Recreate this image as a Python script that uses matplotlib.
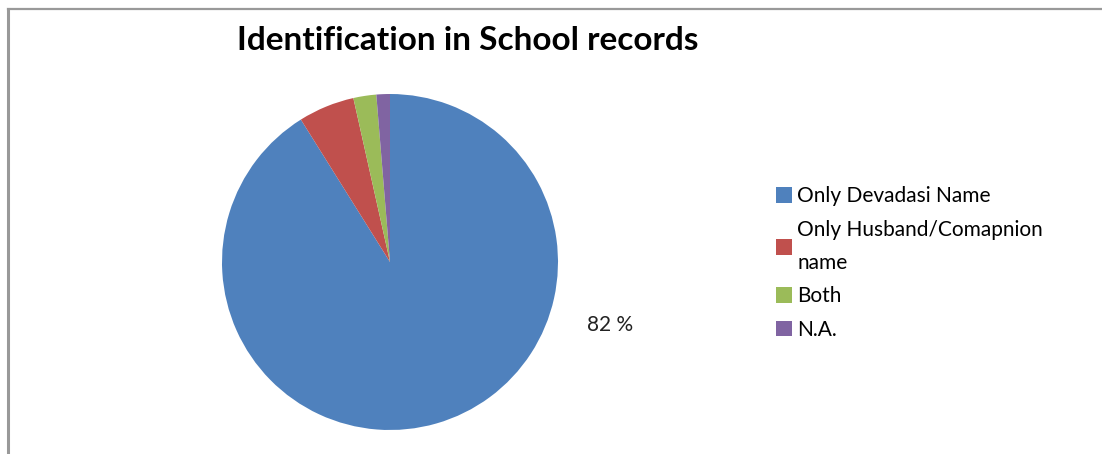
import matplotlib.pyplot as plt
from matplotlib.lines import Line2D
from matplotlib.patches import Patch

categories = ["Only Devadasi Name", "Only Husband/Comapnion\nname", "Both", "N.A."]
shares = [91.1, 5.4, 2.2, 1.3]
colors = ["#4F81BD", "#C0504D", "#9BBB59", "#8064A2"]
blue_label = "82 %"
title = "Identification in School records"

W, H = 1102, 454


def main() -> None:
    fig = plt.figure(figsize=(W / 100, H / 100), dpi=100)
    fig.patch.set_facecolor("white")

    # pie centred at (390, 262) px, radius 168 px
    cx, cy, r = 390, 262, 168
    ax = fig.add_axes([(cx - r) / W, (H - cy - r) / H, 2 * r / W, 2 * r / H])
    ax.pie(shares, colors=colors, startangle=90, counterclock=False,
           radius=1.0, wedgeprops=dict(linewidth=0))
    ax.set_xlim(-1, 1)
    ax.set_ylim(-1, 1)
    ax.set_aspect("equal")
    ax.axis("off")
    ax.text(1.31, -0.375, blue_label, ha="center", va="center",
            fontsize=15, family="Lato", color="#222222")

    fig.text(468 / W, 1 - 41 / H, title, ha="center", va="center",
             fontsize=24, fontweight="bold", family="Lato", color="black")

    handles = [Patch(facecolor=c, edgecolor="none") for c in colors]
    leg = fig.legend(handles, categories, loc="upper left",
                     bbox_to_anchor=(768 / W, 1 - 178 / H), frameon=False,
                     prop=dict(family="Lato", size=15),
                     handlelength=0.75, handleheight=0.75,
                     handletextpad=0.25, labelspacing=0.65,
                     borderaxespad=0)
    for t in leg.get_texts():
        t.set_linespacing(1.8)

    # chart frame
    fig.add_artist(Line2D([7.5 / W, 7.5 / W], [0, 1 - 8.5 / H],
                          color="#999999", lw=2.2))
    fig.add_artist(Line2D([7.5 / W, 1], [1 - 8.5 / H, 1 - 8.5 / H],
                          color="#999999", lw=1.6))

    fig.savefig("out.png", dpi=100)
    plt.close(fig)


if __name__ == "__main__":
    main()
